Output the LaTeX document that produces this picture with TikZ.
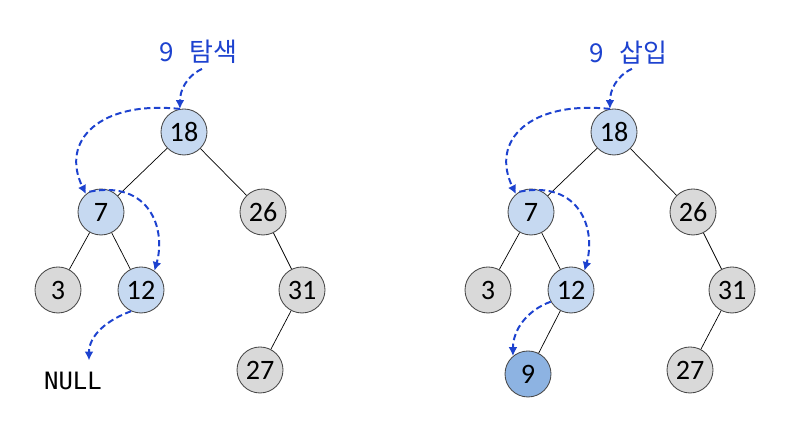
\documentclass[tikz,border=0pt]{standalone}
\usepackage{fontspec}
\setmainfont{Carlito}
\newfontfamily\krfont{Noto Sans CJK KR}
\newfontfamily\codefont{DejaVu Sans Mono}
\usetikzlibrary{arrows.meta,positioning}
\definecolor{cVisit}{HTML}{C6D9F1}
\definecolor{cIdle}{HTML}{D9D9D9}
\definecolor{cNew}{HTML}{8DB3E2}
\definecolor{cPath}{HTML}{1D42CF}
\definecolor{cInk}{HTML}{262626}
\tikzset{
  keynode/.style={circle,draw=cInk!85,line width=0.6pt,minimum size=1.15cm,inner sep=0pt,
                  font=\fontsize{20}{24}\selectfont},
  visited/.style={keynode,fill=cVisit},
  idle/.style={keynode,fill=cIdle},
  inserted/.style={keynode,fill=cNew},
  edge/.style={line width=0.5pt,draw=black},
  probe/.style={-{Latex[length=2.2mm,width=2.2mm]},dashed,dash pattern=on 4.5pt off 2.5pt,
                line width=1.4pt,draw=cPath},
  title/.style={font=\krfont\fontsize{18.5}{22}\selectfont,text=cPath}
}

\begin{document}
\begin{tikzpicture}[x=1cm,y=1cm]
  \useasboundingbox (0,0) rectangle (19.675,11.125);

  % search side
  \node[title] (findlbl) at (4.95,9.82) {9\hspace{0.6em}탐색};
  \node[visited] (l18) at (4.60,7.825) {18};
  \node[visited] (l7)  at (2.525,5.825) {7};
  \node[idle]    (l26) at (6.575,5.825) {26};
  \node[idle]    (l3)  at (1.45,3.875) {3};
  \node[visited] (l12) at (3.525,3.875) {12};
  \node[idle]    (l31) at (7.55,3.875) {31};
  \node[idle]    (l27) at (6.50,1.875) {27};
  \node[font=\codefont\fontsize{17}{20}\selectfont,inner sep=1pt] (lnull) at (1.825,1.60) {NULL};

  \draw[edge] (l18) -- (l7);
  \draw[edge] (l18) -- (l26);
  \draw[edge] (l7) -- (l3);
  \draw[edge] (l7) -- (l12);
  \draw[edge] (l26) -- (l31);
  \draw[edge] (l31) -- (l27);

  \draw[probe] ([xshift=1mm]findlbl.south) to[out=205,in=90] (l18.100);
  \draw[probe] (l18.100) .. controls +(174:2cm) and +(116:1.5cm) .. (l7.130);
  \draw[probe] (l7.120) .. controls +(11:1.55cm) and +(74:1.07cm) .. (l12.55);
  \draw[probe] (l12.245) to[out=200,in=90] ([xshift=4mm,yshift=2.5mm]lnull.north);

  % insert side
  \node[title] (addlbl) at (15.70,9.82) {9\hspace{0.6em}삽입};
  \node[visited]  (r18) at (15.35,7.825) {18};
  \node[visited]  (r7)  at (13.275,5.825) {7};
  \node[idle]     (r26) at (17.325,5.825) {26};
  \node[idle]     (r3)  at (12.20,3.875) {3};
  \node[visited]  (r12) at (14.275,3.875) {12};
  \node[idle]     (r31) at (18.30,3.875) {31};
  \node[idle]     (r27) at (17.25,1.875) {27};
  \node[inserted] (r9)  at (13.20,1.775) {9};

  \draw[edge] (r18) -- (r7);
  \draw[edge] (r18) -- (r26);
  \draw[edge] (r7) -- (r3);
  \draw[edge] (r7) -- (r12);
  \draw[edge] (r12) -- (r9);
  \draw[edge] (r26) -- (r31);
  \draw[edge] (r31) -- (r27);

  \draw[probe] ([xshift=1mm]addlbl.south) to[out=205,in=90] (r18.100);
  \draw[probe] (r18.100) .. controls +(174:2cm) and +(116:1.5cm) .. (r7.130);
  \draw[probe] (r7.120) .. controls +(11:1.55cm) and +(74:1.07cm) .. (r12.55);
  \draw[probe] (r12.210) to[out=200,in=90] (r9.130);
\end{tikzpicture}
\end{document}
